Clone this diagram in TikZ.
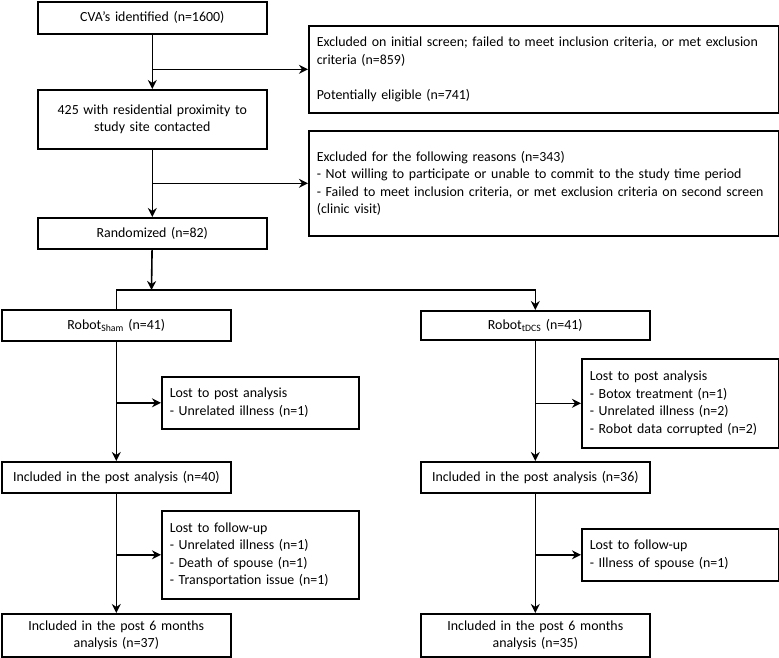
\documentclass[tikz,border=0pt]{standalone}
\usepackage{fontspec}
\setmainfont{Carlito}
\usetikzlibrary{positioning, arrows.meta, calc}

\begin{document}
\begin{tikzpicture}[x=1pt, y=-1pt, >={Stealth[length=9pt, width=9pt]},
    every node/.style={rectangle, draw, line width=1.6pt, anchor=north west, inner xsep=8pt, inner ysep=0pt, font=\fontsize{13.9}{17.6}\selectfont},
    mainbox/.style={text width=213pt, minimum height=#1, align=center},
    widebox/.style={text width=454pt, minimum height=#1, align=left},
    sidebox/.style={text width=181pt, minimum height=#1, align=left}]
        \useasboundingbox (0,0) rectangle (779,657);
        % Screening
        \node[mainbox=32pt] (cva) at (37,1) {CVA's identified (n=1600)};
        \node[widebox=87pt] (excl1) at (308,25) {Excluded on initial screen; failed to meet inclusion criteria, or met exclusion\\criteria (n=859)\\[17.6pt]Potentially eligible (n=741)};
        \node[mainbox=59pt] (contact) at (37,89) {425 with residential proximity to\\study site contacted};
        \node[widebox=105pt] (excl2) at (308,130) {Excluded for the following reasons (n=343)\\- Not willing to participate or unable to commit to the study time period\\- Failed to meet inclusion criteria, or met exclusion criteria on second screen\\(clinic visit)};
        \node[mainbox=31pt] (rand) at (37,217) {Randomized (n=82)};
        \coordinate (split) at (151.5,290);

        % Robot sham arm
        \node[mainbox=31pt] (sham) at (1,309) {Robot\textsubscript{Sham} (n=41)};
        \node[sidebox=52pt] (lostA) at (161,376) {Lost to post analysis\\- Unrelated illness (n=1)};
        \node[mainbox=31pt] (inclA) at (1,461) {Included in the post analysis (n=40)};
        \node[sidebox=88pt] (fuA) at (161,510) {Lost to follow-up\\- Unrelated illness (n=1)\\- Death of spouse (n=1)\\- Transportation issue (n=1)};
        \node[mainbox=43pt] (sixA) at (1,613) {Included in the post 6 months\\analysis (n=37)};

        % Robot tDCS arm
        \node[mainbox=29pt] (tdcs) at (420,310) {Robot\textsubscript{tDCS} (n=41)};
        \node[sidebox=89pt] (lostB) at (581,358) {Lost to post analysis\\- Botox treatment (n=1)\\- Unrelated illness (n=2)\\- Robot data corrupted (n=2)};
        \node[mainbox=31pt] (inclB) at (420,461) {Included in the post analysis (n=36)};
        \node[sidebox=52pt] (fuB) at (581,528) {Lost to follow-up\\- Illness of spouse (n=1)};
        \node[mainbox=43pt] (sixB) at (420,613) {Included in the post 6 months\\analysis (n=35)};

        % Connections
        \draw[->, line width=1.6pt] (cva) -- (contact);
        \draw[->, line width=1.6pt] (cva.south |- excl1.west) -- (excl1.west);
        \draw[->, line width=1.6pt] (contact) -- (rand);
        \draw[->, line width=1.6pt] (contact.south |- excl2.west) -- (excl2.west);
        \draw[->, line width=1.6pt] (rand) -- (split);
        \draw[->, line width=1.6pt] (sham.north) |- (split) -| (tdcs.north);
        \draw[->, line width=1.6pt] (sham) -- (inclA);
        \draw[->, line width=1.6pt] (sham.south |- lostA.west) -- (lostA.west);
        \draw[->, line width=1.6pt] (inclA) -- (sixA);
        \draw[->, line width=1.6pt] (inclA.south |- fuA.west) -- (fuA.west);
        \draw[->, line width=1.6pt] (tdcs) -- (inclB);
        \draw[->, line width=1.6pt] (tdcs.south |- lostB.west) -- (lostB.west);
        \draw[->, line width=1.6pt] (inclB) -- (sixB);
        \draw[->, line width=1.6pt] (inclB.south |- fuB.west) -- (fuB.west);
    \end{tikzpicture}
\end{document}
